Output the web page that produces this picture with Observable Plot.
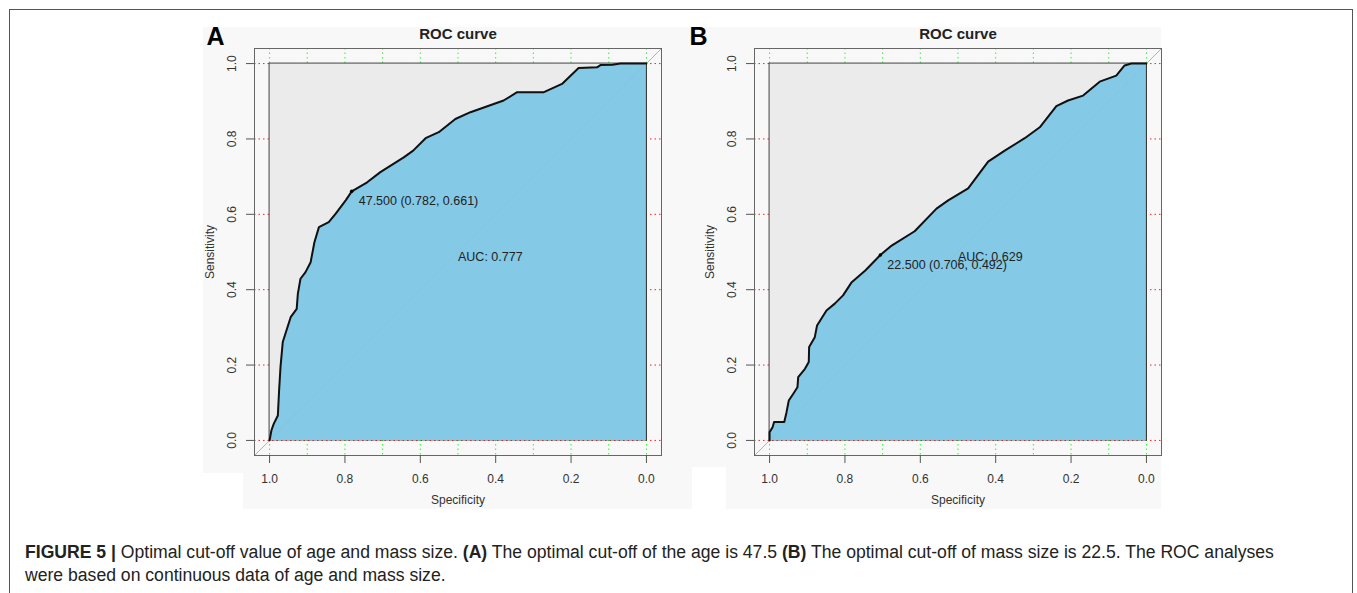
<!DOCTYPE html>
<html>
<head>
<meta charset="utf-8">
<script src="https://cdn.jsdelivr.net/npm/d3@7"></script>
<script src="https://cdn.jsdelivr.net/npm/@observablehq/plot@0.6"></script>
<style>
  html, body { margin: 0; padding: 0; background: #fff; }
  #root { position: relative; width: 1357px; height: 593px; overflow: hidden; font-family: "Liberation Sans", Arial, sans-serif; }
  .abs { position: absolute; }
  #frame { left: 9px; top: 9px; width: 1344px; height: 620px; border: 1px solid #555; box-sizing: border-box; }
  .bg { background: #f8f8f8; }
  .white { background: #fff; }
  #caption { left: 25px; top: 541px; width: 1320px; font-size: 17.6px; line-height: 23px; color: #222; white-space: nowrap; }
  #caption b { font-weight: bold; }
</style>
</head>
<body>
<div id="root">
  <div id="frame" class="abs"></div>
  <div class="abs bg" style="left:203px;top:27px;width:958px;height:482px;"></div>
  <div class="abs white" style="left:203px;top:473px;width:40px;height:36px;"></div>
  <div class="abs white" style="left:692px;top:467px;width:34px;height:42px;"></div>
  <div id="panelA" class="abs" style="left:193px;top:20px;"></div>
  <div id="panelB" class="abs" style="left:693px;top:20px;"></div>
  <div id="caption" class="abs"><b>FIGURE 5 |</b> Optimal cut-off value of age and mass size. <b>(A)</b> The optimal cut-off of the age is 47.5 <b>(B)</b> The optimal cut-off of mass size is 22.5. The ROC analyses<br>were based on continuous data of age and mass size.</div>
</div>
<script>
// ---- Data ----
const specA = [1.0, 0.995, 0.989, 0.978, 0.975, 0.971, 0.965, 0.944, 0.928, 0.925, 0.918, 0.905, 0.891, 0.881, 0.869, 0.843, 0.825, 0.798, 0.782, 0.741, 0.706, 0.644, 0.619, 0.586, 0.551, 0.507, 0.467, 0.379, 0.343, 0.272, 0.224, 0.180, 0.131, 0.122, 0.09, 0.069, 0.0];
const sensA = [0, 0.027, 0.044, 0.066, 0.128, 0.195, 0.261, 0.327, 0.349, 0.389, 0.429, 0.446, 0.473, 0.526, 0.566, 0.579, 0.601, 0.637, 0.661, 0.685, 0.712, 0.751, 0.769, 0.802, 0.818, 0.853, 0.871, 0.902, 0.924, 0.924, 0.946, 0.988, 0.990, 0.996, 0.997, 1.0, 1.0];
const cutA = {spec: 0.782, sens: 0.661, label: "47.500 (0.782, 0.661)"};
const aucA = "AUC: 0.777";

const specB = [1.0, 1.0, 0.992, 0.988, 0.961, 0.955, 0.949, 0.937, 0.926, 0.924, 0.906, 0.896, 0.895, 0.88, 0.874, 0.849, 0.827, 0.805, 0.782, 0.746, 0.706, 0.676, 0.615, 0.557, 0.526, 0.473, 0.42, 0.376, 0.323, 0.283, 0.239, 0.208, 0.168, 0.124, 0.080, 0.058, 0.04, 0.0];
const sensB = [0, 0.022, 0.035, 0.049, 0.049, 0.075, 0.106, 0.124, 0.141, 0.168, 0.190, 0.208, 0.248, 0.274, 0.305, 0.345, 0.363, 0.385, 0.420, 0.451, 0.492, 0.517, 0.555, 0.615, 0.637, 0.669, 0.740, 0.769, 0.802, 0.831, 0.887, 0.902, 0.915, 0.952, 0.968, 0.995, 1.0, 1.0];
const cutB = {spec: 0.706, sens: 0.492, label: "22.500 (0.706, 0.492)"};
const aucB = "AUC: 0.629";

const axisTicks = [0, 0.2, 0.4, 0.6, 0.8, 1.0];
const gridX = [0, 0.1, 0.2, 0.3, 0.4, 0.5, 0.6, 0.7, 0.8, 0.9, 1.0];
const gridY = [0, 0.2, 0.4, 0.6, 0.8, 1.0];
const lim = [-0.04, 1.04];
const title = "ROC curve";
const xLabel = "Specificity";
const yLabel = "Sensitivity";

const fmt = d3.format(".1f");

function panel(spec, sens, cut, auc, letter, letterDx) {
  const curve = spec.map((s, i) => ({spec: s, sens: sens[i]}));
  const diag = lim.map(v => ({spec: v, sens: 1 - v}));
  return Plot.plot({
    width: 500, height: 490,
    marginLeft: 61, marginRight: 32, marginTop: 28, marginBottom: 55,
    x: {domain: [lim[1], lim[0]]},
    y: {domain: lim},
    style: {background: "transparent", fontFamily: "'Liberation Sans', Arial, sans-serif", fontSize: "12px", color: "#333", overflow: "visible"},
    marks: [
      Plot.ruleY(gridY, {stroke: "#ff2020", strokeDasharray: "1.5,3"}),
      Plot.ruleX(gridX, {stroke: "#20ff20", strokeDasharray: "1.5,3"}),
      Plot.rect([{x1: 1, x2: 0, y1: 0, y2: 1}], {x1: "x1", x2: "x2", y1: "y1", y2: "y2", fill: "#ebebeb", stroke: "#444", strokeWidth: 1}),
      Plot.areaY(curve, {x: "spec", y1: 0, y2: "sens", fill: "#84c9e6", curve: "linear"}),
      Plot.line([{spec: 0, sens: 0}, {spec: 0, sens: 1}], {x: "spec", y: "sens", stroke: "#333", strokeWidth: 1}),
      Plot.line(diag, {x: "spec", y: "sens", stroke: "#b4b4b4", strokeWidth: 1}),
      Plot.line(curve, {x: "spec", y: "sens", stroke: "#111", strokeWidth: 2}),
      Plot.dot([cut], {x: "spec", y: "sens", r: 1.8, fill: "#000"}),
      Plot.text([cut], {x: "spec", y: "sens", text: "label", textAnchor: "start", dx: 7, dy: 10, fontSize: 12.5, fill: "#222"}),
      Plot.text([auc], {x: () => 0.5, y: () => 0.5, text: d => d, textAnchor: "start", lineAnchor: "top", fontSize: 12.5, fill: "#222"}),
      Plot.frame({stroke: "#666"}),
      Plot.axisX({ticks: axisTicks, tickSize: 8, tickPadding: 11, tickFormat: fmt, label: null, stroke: "#555", fontSize: 12}),
      Plot.axisY({ticks: axisTicks, tickSize: 8, tickFormat: () => "", label: null, stroke: "#555"}),
      Plot.text(axisTicks, {y: d => d, text: d => fmt(d), frameAnchor: "left", textAnchor: "middle", lineAnchor: "middle", dx: -22, rotate: -90, fontSize: 12, fill: "#333"}),
      Plot.text([title], {frameAnchor: "top", lineAnchor: "middle", dy: -14, fontWeight: "bold", fontSize: 15, fill: "#222"}),
      Plot.text([letter], {frameAnchor: "top-left", lineAnchor: "middle", dx: letterDx, dy: -12, fontSize: 25, fontWeight: "bold", textAnchor: "start", fill: "#000"}),
      Plot.text([xLabel], {frameAnchor: "bottom", lineAnchor: "middle", dy: 45, fontSize: 12, fill: "#333"}),
      Plot.text([yLabel], {frameAnchor: "left", textAnchor: "middle", lineAnchor: "middle", dx: -44, rotate: -90, fontSize: 12, fill: "#333"})
    ]
  });
}

document.getElementById("panelA").append(panel(specA, sensA, cutA, aucA, "A", -48));
document.getElementById("panelB").append(panel(specB, sensB, cutB, aucB, "B", -65));
</script>
</body>
</html>
